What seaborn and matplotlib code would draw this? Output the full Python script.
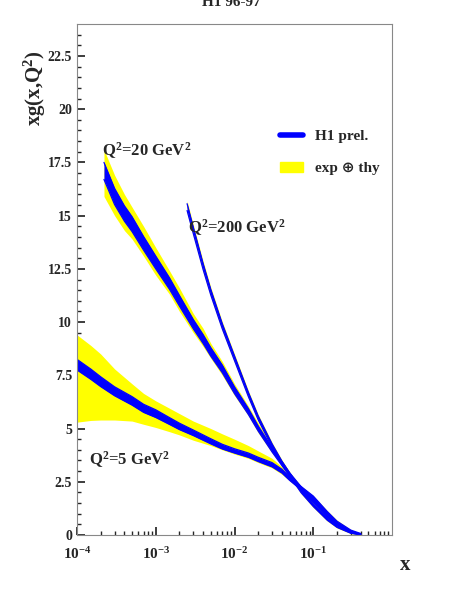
import numpy as np
import matplotlib
matplotlib.use("Agg")
import matplotlib.pyplot as plt
import seaborn as sns
from matplotlib.patches import Patch
from matplotlib.lines import Line2D

sns.set_theme(style="white")
plt.rcParams['font.family'] = ['Liberation Serif', 'DejaVu Serif']
plt.rcParams['font.weight'] = 'bold'
plt.rcParams['mathtext.fontset'] = 'custom'
plt.rcParams['mathtext.rm'] = 'Liberation Serif:bold'
plt.rcParams['mathtext.it'] = 'Liberation Serif:bold'
plt.rcParams['mathtext.bf'] = 'Liberation Serif:bold'
plt.rcParams['mathtext.default'] = 'rm'

# Q2 = 5
x5 = [1e-4, 1.5e-4, 2e-4, 3e-4, 5e-4, 7e-4, 1e-3, 1.5e-3, 2e-3, 3e-3, 5e-3, 7e-3, 1e-2, 1.5e-2, 2e-2, 3e-2, 4e-2, 5e-2, 7e-2, 0.1, 0.15, 0.2, 0.3, 0.4]
c5 = [8.0, 7.55, 7.2, 6.75, 6.3, 5.95, 5.7, 5.35, 5.1, 4.8, 4.4, 4.15, 3.95, 3.75, 3.55, 3.3, 3.0, 2.65, 2.2, 1.75, 1.05, 0.6, 0.2, 0.05]
e5 = [0.25, 0.24, 0.23, 0.21, 0.2, 0.19, 0.18, 0.16, 0.15, 0.13, 0.12, 0.11, 0.1, 0.1, 0.1, 0.1, 0.09, 0.08, 0.08, 0.08, 0.06, 0.05, 0.03, 0.02]
ylo5 = [5.3, 5.38, 5.4, 5.4, 5.35, 5.2, 5.05, 4.85, 4.7, 4.45, 4.2, 4.0, 3.8, 3.6, 3.4, 3.15, 2.85, 2.55, 2.1, 1.65, 0.95, 0.5, 0.15, 0.02]
yhi5 = [9.4, 8.9, 8.5, 7.8, 7.1, 6.65, 6.3, 5.95, 5.7, 5.35, 5.0, 4.75, 4.5, 4.2, 3.95, 3.6, 3.2, 2.75, 2.3, 1.85, 1.15, 0.7, 0.25, 0.07]
# Q2 = 20
x20 = [2.2e-4, 3e-4, 4e-4, 5e-4, 7e-4, 1e-3, 1.5e-3, 2e-3, 3e-3, 4e-3, 5e-3, 7e-3, 1e-2, 1.5e-2, 2e-2, 3e-2, 4e-2, 5e-2, 7e-2, 0.1, 0.15, 0.2, 0.3, 0.4]
c20 = [17.1, 15.9, 15.1, 14.6, 13.7, 12.8, 11.8, 11.0, 9.9, 9.2, 8.6, 7.8, 6.8, 5.8, 5.0, 4.0, 3.35, 2.85, 2.2, 1.6, 0.9, 0.5, 0.15, 0.03]
e20 = [0.4, 0.38, 0.36, 0.35, 0.32, 0.3, 0.27, 0.25, 0.22, 0.21, 0.2, 0.18, 0.16, 0.14, 0.12, 0.1, 0.09, 0.08, 0.07, 0.07, 0.05, 0.04, 0.03, 0.02]
ylo20 = [15.9, 15.0, 14.3, 13.9, 13.1, 12.2, 11.3, 10.5, 9.5, 8.85, 8.3, 7.5, 6.55, 5.6, 4.8, 3.85, 3.25, 2.75, 2.1, 1.5, 0.82, 0.44, 0.12, 0.01]
yhi20 = [18.1, 16.9, 16.0, 15.4, 14.5, 13.5, 12.4, 11.6, 10.4, 9.7, 9.0, 8.15, 7.1, 6.05, 5.25, 4.2, 3.5, 2.95, 2.3, 1.7, 0.98, 0.56, 0.19, 0.05]
# Q2 = 200
x200 = [2.5e-3, 3e-3, 4e-3, 5e-3, 7e-3, 1e-2, 1.5e-2, 2e-2, 3e-2, 4e-2, 5e-2, 7e-2, 0.1, 0.15, 0.2, 0.3, 0.4]
c200 = [15.4, 14.3, 12.6, 11.4, 9.8, 8.3, 6.6, 5.5, 4.2, 3.4, 2.85, 2.05, 1.4, 0.75, 0.4, 0.1, 0.02]
e200 = [0.16, 0.15, 0.14, 0.13, 0.12, 0.11, 0.1, 0.09, 0.08, 0.07, 0.07, 0.06, 0.06, 0.05, 0.04, 0.02, 0.01]

fig = plt.figure(figsize=(4.63, 5.99), dpi=100)
ax = fig.add_axes([77/463, 1-535/599, 315/463, 511/599])

bands = [(x5, c5, e5, ylo5, yhi5), (x20, c20, e20, ylo20, yhi20),
         (x200, c200, e200, [a-b*1.8 for a, b in zip(c200, e200)], [a+b*1.8 for a, b in zip(c200, e200)])]
for x, c, e, lo, hi in bands:
    ax.fill_between(x, lo, hi, color='#ffff00', lw=0)
for x, c, e, lo, hi in bands:
    ax.fill_between(x, np.array(c)-np.array(e), np.array(c)+np.array(e), color='#0000ff', lw=0)
    sns.lineplot(x=x, y=np.array(c)-np.array(e), ax=ax, color='#0000ff', lw=0.9)
    sns.lineplot(x=x, y=np.array(c)+np.array(e), ax=ax, color='#0000ff', lw=0.9)

ax.set_xscale('log')
ax.set_xlim(1e-4, 1)
ax.set_ylim(0, 24)
ax.set_yticks([0, 2.5, 5, 7.5, 10, 12.5, 15, 17.5, 20, 22.5])
ax.set_yticklabels(['0', '2.5', '5', '7.5', '10', '12.5', '15', '17.5', '20', '22.5'], fontsize=10, fontweight='bold')
ax.set_yticks(np.arange(0, 24, 0.5), minor=True)
ax.set_xticks([1e-4, 1e-3, 1e-2, 1e-1])
ax.set_xticklabels([r'10$^{-4}$', r'10$^{-3}$', r'10$^{-2}$', r'10$^{-1}$'], fontsize=11, fontweight='bold')
ax.tick_params(axis='both', which='both', direction='in', left=True, bottom=True, length=6)
ax.tick_params(axis='x', pad=8)
ax.tick_params(which='minor', length=3)
for s in ax.spines.values():
    s.set_color('#888888'); s.set_linewidth(0.8)

fig.text(0.875, 1-570/599, 'x', fontsize=15, fontweight='bold', ha='center')
fig.text(0.075, 1-88/599, r'xg(x,Q$^{2}$)', fontsize=15, fontweight='bold', rotation=90, ha='center', va='center')
fig.text(0.5, 0.995, 'H1 96-97', fontsize=11, fontweight='bold', ha='center', va='center')

ax.text(2.1e-4, 17.8, r'Q$^{2}$=20 GeV$^{2}$', fontsize=12, fontweight='bold')
ax.text(2.6e-3, 14.2, r'Q$^{2}$=200 GeV$^{2}$', fontsize=12, fontweight='bold')
ax.text(1.4e-4, 3.3, r'Q$^{2}$=5 GeV$^{2}$', fontsize=12, fontweight='bold')

handles = [Line2D([], [], color='#0000ff', lw=4), Patch(color='#ffff00')]
ax.legend(handles, ['H1 prel.', 'exp ⊕ thy'], loc='upper left', bbox_to_anchor=(0.6, 0.82),
          frameon=False, prop={'weight': 'bold', 'size': 11, 'family': ['Liberation Serif', 'DejaVu Sans']},
          handlelength=1.5, labelspacing=1.2)

fig.savefig('out.png', dpi=100)
